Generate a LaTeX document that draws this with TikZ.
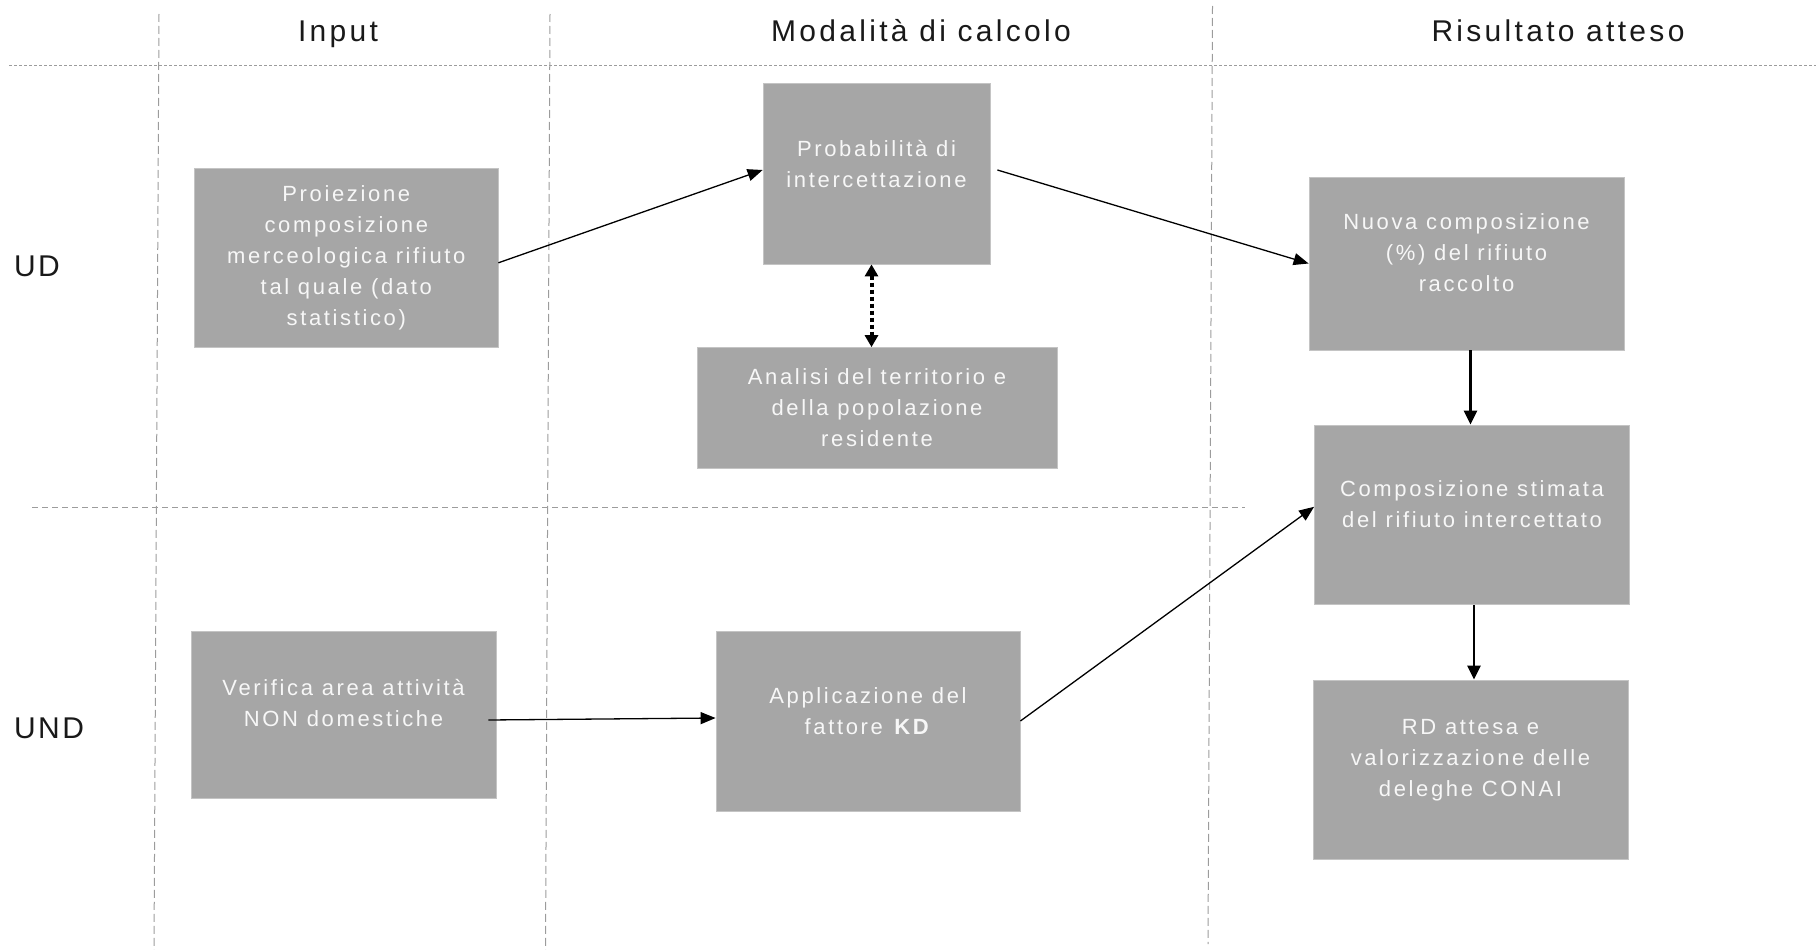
\documentclass[tikz,border=0pt]{standalone}
\usepackage{fontspec}
\setmainfont{Liberation Sans}
\newfontfamily\boxfont[LetterSpace=12]{Liberation Sans}
\newfontfamily\headfont[LetterSpace=11]{Liberation Sans}
\newfontfamily\rowfont[LetterSpace=8]{Liberation Sans}
\usetikzlibrary{arrows.meta}
\definecolor{boxgray}{HTML}{A6A6A6}
\definecolor{boxedge}{HTML}{C4C4C4}
\definecolor{linegray}{HTML}{9C9C9C}
\definecolor{boxtext}{HTML}{F7F7F7}
\tikzset{
  box/.style={fill=boxgray, draw=boxedge, line width=0.8pt, inner sep=0pt},
  boxtxt/.style={text=boxtext, align=center, font=\boxfont\fontsize{22}{31}\selectfont, inner sep=0pt},
  head/.style={font=\headfont\fontsize{30}{34}\selectfont, text=black!90, inner sep=0pt},
  rowlab/.style={font=\rowfont\fontsize{30}{34}\selectfont, text=black!90, inner sep=0pt},
  vgrid/.style={draw=linegray, line width=1pt, dash pattern=on 8pt off 4pt},
  topgrid/.style={draw=linegray, line width=1pt, dash pattern=on 3pt off 2pt},
  midgrid/.style={draw=linegray, line width=1pt, dash pattern=on 6pt off 4pt},
  arr/.style={-{Triangle[length=15pt,width=12pt]}, line width=1.3pt},
  varr/.style={-{Triangle[length=14pt,width=13pt]}, line width=2.8pt},
  darr/.style={{Triangle[length=12pt,width=13pt]}-{Triangle[length=12pt,width=13pt]}, line width=4pt, dash pattern=on 4pt off 3pt},
}
\begin{document}
\begin{tikzpicture}[x=1pt,y=-1pt]
\useasboundingbox (0,0) rectangle (1816,950);
% grid lines
\coordinate (v1t) at (159,14);   \coordinate (v1b) at (154,950);
\coordinate (v2t) at (550,14);   \coordinate (v2b) at (545.5,950);
\coordinate (v3t) at (1212.5,6); \coordinate (v3b) at (1208,944);
\coordinate (h1l) at (9,66);     \coordinate (h1r) at (1816,66);
\coordinate (h2l) at (32,507);   \coordinate (h2r) at (1245,507);
\draw[vgrid] (v1t) -- (v1b);
\draw[vgrid] (v2t) -- (v2b);
\draw[vgrid] (v3t) -- (v3b);
\draw[topgrid] (h1l) -- (h1r);
\draw[midgrid] (h2l) -- (h2r);
% headers
\node[head, anchor=base] (hin) at (338,42) {Input};
\node[head, anchor=base] (hmod) at (921,42) {Modalità di calcolo};
\node[head, anchor=base] (hris) at (1558,42) {Risultato atteso};
\node[rowlab, anchor=base west] (ud) at (14,276) {UD};
\node[rowlab, anchor=base west] (und) at (14,738) {UND};
% boxes
\node[box, minimum width=303.4pt, minimum height=179.5pt] (proj) at (346.3,257.8) {};
\node[box, minimum width=227pt, minimum height=181pt] (prob) at (876.5,173.5) {};
\node[box, minimum width=360pt, minimum height=120.5pt] (anal) at (877,407.8) {};
\node[box, minimum width=315pt, minimum height=173pt] (nuova) at (1466.5,263.5) {};
\node[box, minimum width=315pt, minimum height=179.6pt] (comp) at (1472,514.8) {};
\node[box, minimum width=315pt, minimum height=179pt] (rd) at (1470.5,769.5) {};
\node[box, minimum width=305pt, minimum height=167pt] (ver) at (343.5,714.5) {};
\node[box, minimum width=304pt, minimum height=180pt] (app) at (868,721) {};
% box texts
\node[boxtxt] (tproj) at (proj) {Proiezione\\composizione\\merceologica rifiuto\\tal quale (dato\\statistico)};
\node[boxtxt, yshift=9.5pt] (tprob) at (prob) {Probabilità di\\intercettazione};
\node[boxtxt] (tanal) at (anal) {Analisi del territorio e\\della popolazione\\residente};
\node[boxtxt, yshift=11pt] (tnuova) at (nuova) {Nuova composizione\\(\%) del rifiuto\\raccolto};
\node[boxtxt, yshift=11pt] (tcomp) at (comp) {Composizione stimata\\del rifiuto intercettato};
\node[boxtxt, yshift=9.5pt] (trd) at (rd) {RD attesa e\\valorizzazione delle\\deleghe CONAI};
\node[boxtxt, yshift=11pt] (tver) at (ver) {Verifica area attività\\NON domestiche};
\node[boxtxt, yshift=9.5pt] (tapp) at (app) {Applicazione del\\fattore \textbf{KD}};
% connectors
\draw[arr] ([yshift=-5pt]proj.east) -- ([yshift=3.5pt]prob.west);
\draw[arr] ([xshift=7pt,yshift=3.5pt]prob.east) -- (nuova.west);
\draw[darr] ([xshift=-5pt]prob.south) -- ([xshift=-5pt]prob.south |- anal.north);
\draw[varr] ([xshift=4pt]nuova.south) -- ([xshift=4pt]nuova.south |- comp.north);
\draw[varr] ([xshift=2pt]comp.south) -- ([xshift=2pt]comp.south |- rd.north);
\draw[arr] ([xshift=-8pt,yshift=-5.5pt]ver.east) -- ([yshift=3pt]app.west);
\draw[arr] (app.east) -- ([yshift=8pt]comp.west);
\end{tikzpicture}
\end{document}
